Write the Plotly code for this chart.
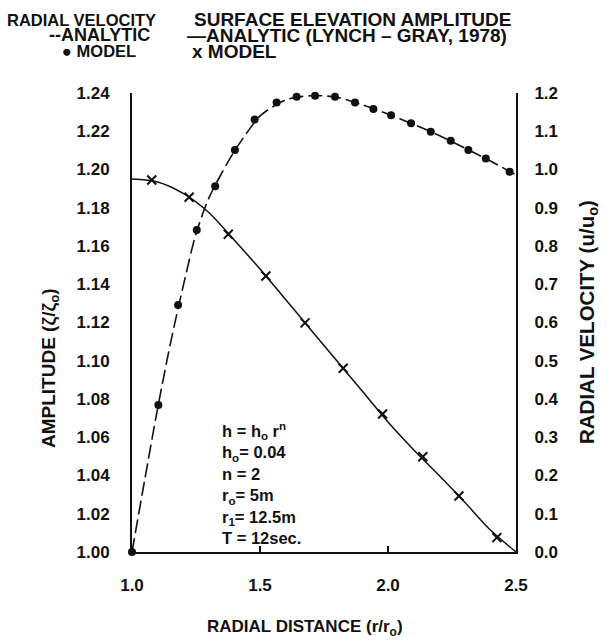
import plotly.graph_objects as go

# ---- data ----
# Surface elevation amplitude (left axis)
x_amp_analytic = [1.0, 1.1, 1.2, 1.3, 1.4, 1.5, 1.6, 1.7, 1.8, 1.9, 2.0, 2.1, 2.2, 2.3, 2.4, 2.5]
amp_analytic = [1.1950, 1.1935, 1.1875, 1.1775, 1.1630, 1.1480, 1.1320, 1.1160, 1.1000,
                1.0840, 1.0680, 1.0535, 1.0400, 1.0260, 1.0115, 1.0000]
x_amp_model = [1.077, 1.223, 1.376, 1.523, 1.676, 1.825, 1.979, 2.136, 2.277, 2.425]
amp_model = [1.1945, 1.1855, 1.1661, 1.1443, 1.1198, 1.0961, 1.0722, 1.0498, 1.0293, 1.0075]

# Radial velocity (right axis)
x_vel_analytic = [1.0, 1.05, 1.1, 1.15, 1.2, 1.25, 1.3, 1.35, 1.4, 1.45, 1.5, 1.6, 1.7,
                  1.8, 1.9, 2.0, 2.1, 2.2, 2.3, 2.4, 2.5]
vel_analytic = [0.0, 0.19, 0.375, 0.545, 0.695, 0.832, 0.925, 0.99, 1.048, 1.097, 1.14,
                1.182, 1.193, 1.189, 1.169, 1.145, 1.118, 1.089, 1.056, 1.022, 0.986]
x_vel_model = [1.0, 1.103, 1.180, 1.253, 1.325, 1.402, 1.479, 1.565, 1.643, 1.715, 1.793,
               1.871, 1.943, 2.012, 2.090, 2.167, 2.245, 2.314, 2.382, 2.475]
vel_model = [0.0, 0.384, 0.646, 0.842, 0.956, 1.051, 1.131, 1.175, 1.190, 1.193, 1.190,
             1.175, 1.158, 1.142, 1.121, 1.099, 1.075, 1.051, 1.029, 0.994]

x_tickvals = [1.0, 1.5, 2.0, 2.5]
x_ticktext = ["1.0", "1.5", "2.0", "2.5"]
yl_tickvals = [1.00, 1.02, 1.04, 1.06, 1.08, 1.10, 1.12, 1.14, 1.16, 1.18, 1.20, 1.22, 1.24]
yl_ticktext = ["%.2f" % v for v in yl_tickvals]
yr_tickvals = [0.0, 0.1, 0.2, 0.3, 0.4, 0.5, 0.6, 0.7, 0.8, 0.9, 1.0, 1.1, 1.2]
yr_ticktext = ["%.1f" % v for v in yr_tickvals]

params = ["h = h<sub>o</sub> r<sup>n</sup>", "h<sub>o</sub>= 0.04", "n = 2",
          "r<sub>o</sub>= 5m", "r<sub>1</sub>= 12.5m", "T = 12sec."]

FONT = "Liberation Sans"
BLACK = "#111111"
W, H = 612, 641
ML, MR, MT, MB = 132, 96, 93, 89
PW, PH = W - ML - MR, H - MT - MB

fig = go.Figure()

fig.add_trace(go.Scatter(x=x_amp_analytic, y=amp_analytic, mode="lines",
                         line=dict(color=BLACK, width=1.5, shape="spline", smoothing=0.8),
                         yaxis="y", cliponaxis=False, showlegend=False))
fig.add_trace(go.Scatter(x=x_amp_model, y=amp_model, mode="markers",
                         marker=dict(symbol="x-thin", size=9, line=dict(color=BLACK, width=2)),
                         yaxis="y", cliponaxis=False, showlegend=False))
fig.add_trace(go.Scatter(x=x_vel_analytic, y=vel_analytic, mode="lines",
                         line=dict(color=BLACK, width=1.6, dash="14px,5px", shape="spline", smoothing=0.8),
                         yaxis="y2", cliponaxis=False, showlegend=False))
fig.add_trace(go.Scatter(x=x_vel_model, y=vel_model, mode="markers",
                         marker=dict(symbol="circle", size=8, color=BLACK),
                         yaxis="y2", cliponaxis=False, showlegend=False))

tickfont = dict(family=FONT, size=17, color=BLACK, weight="bold")

fig.update_layout(
    width=W, height=H,
    margin=dict(l=ML, r=MR, t=MT, b=MB),
    paper_bgcolor="white", plot_bgcolor="white",
    xaxis=dict(range=[1.0, 2.5], tickvals=x_tickvals, ticktext=x_ticktext,
               showgrid=False, zeroline=False, showline=True, linecolor=BLACK, linewidth=2,
               ticks="inside", ticklen=6, tickwidth=1.5, tickcolor=BLACK,
               tickfont=tickfont, ticklabelstandoff=17, automargin=False),
    yaxis=dict(range=[1.0, 1.24], tickvals=yl_tickvals, ticktext=yl_ticktext,
               showgrid=False, zeroline=False, showline=True, linecolor=BLACK, linewidth=2,
               ticks="", tickfont=tickfont, ticklabelstandoff=17, automargin=False),
    yaxis2=dict(range=[0.0, 1.2], tickvals=yr_tickvals, ticktext=yr_ticktext,
                overlaying="y", side="right",
                showgrid=False, zeroline=False, showline=True, linecolor=BLACK, linewidth=2,
                ticks="", tickfont=tickfont, ticklabelstandoff=13, automargin=False),
)

def txt(x, y, text, size=14, xanchor="left", angle=0, align="left"):
    fig.add_annotation(xref="paper", yref="paper", x=(x - ML) / PW, y=(H - MB - y) / PH,
                       text=text, showarrow=False, xanchor=xanchor, yanchor="middle",
                       textangle=angle, align=align, borderpad=0,
                       font=dict(family=FONT, size=size, color=BLACK, weight="bold"))

# header legends
txt(6, 20, "RADIAL VELOCITY", 16.5)
txt(48, 35, "--ANALYTIC", 18)
txt(61, 51, "\u25cf MODEL", 16.5)
txt(193, 20, "SURFACE ELEVATION AMPLITUDE", 19)
txt(186, 35, "\u2014ANALYTIC (LYNCH \u2013 GRAY, 1978)", 19)
txt(191, 51, "x MODEL", 19)

# axis titles
txt(305, 628, "RADIAL DISTANCE (r/r<sub>o</sub>)", 17, xanchor="center")
txt(50, 368, "AMPLITUDE (\u03b6/\u03b6<sub>o</sub>)", 19, xanchor="center", angle=-90)
txt(588, 322, "RADIAL VELOCITY (u/u<sub>o</sub>)", 20.5, xanchor="center", angle=-90)

# parameter block (single multi-line text)
txt(221, 483, "<br>".join(params), 16.5)

fig.write_html("out.html", post_script="document.body.style.margin='0';",
               config={"displayModeBar": False})
